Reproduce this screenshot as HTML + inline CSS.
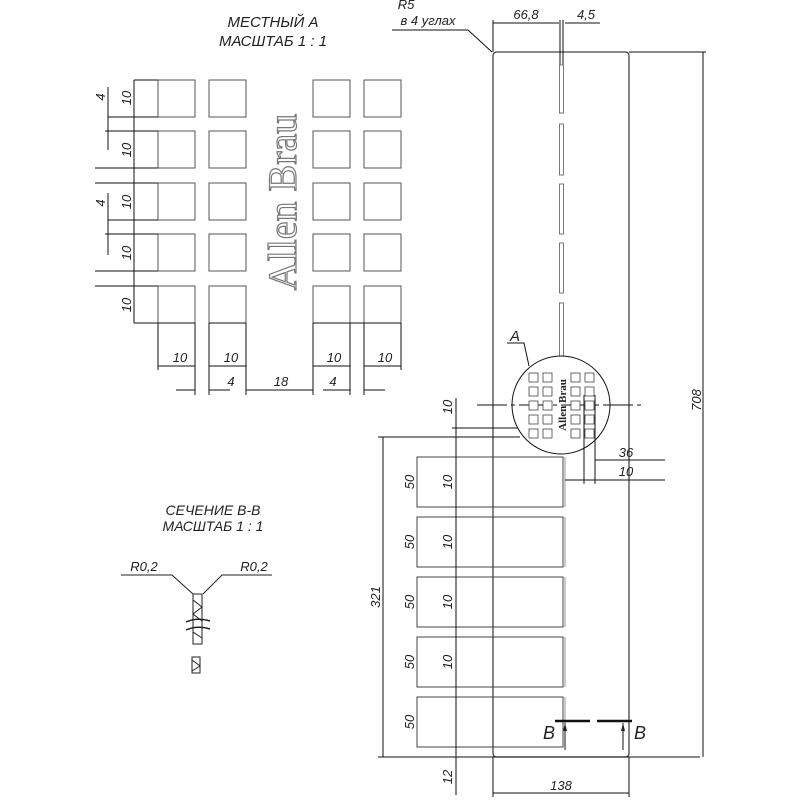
<!DOCTYPE html>
<html><head><meta charset="utf-8"><style>
body{margin:0;background:#fff}
svg{display:block}
text{font-family:"Liberation Sans",sans-serif;font-style:italic;fill:#222}
</style></head><body>
<svg width="800" height="800" viewBox="0 0 800 800" xmlns="http://www.w3.org/2000/svg">
<defs><marker id="a" markerWidth="8" markerHeight="6" refX="8" refY="3" orient="auto-start-reverse"><path d="M0,1 L8,3 L0,5" fill="#222"/></marker></defs>
<text x="273" y="27" font-size="15" text-anchor="middle">МЕСТНЫЙ А</text>
<text x="273" y="46" font-size="15" text-anchor="middle">МАСШТАБ 1 : 1</text>
<g stroke="#555" stroke-width="1" fill="none">
<g id="col">
<rect x="158" y="80" width="37" height="37"/><rect x="158" y="131" width="37" height="37"/><rect x="158" y="183" width="37" height="37"/><rect x="158" y="234" width="37" height="37"/><rect x="158" y="286" width="37" height="37"/>
</g>
<use href="#col" x="51"/><use href="#col" x="155"/><use href="#col" x="206"/>
</g>
<g stroke="#111" stroke-width="1" fill="none">
<line x1="134" y1="80" x2="158" y2="80"/><line x1="108" y1="117" x2="158" y2="117"/><line x1="105" y1="131" x2="158" y2="131"/>
<line x1="95" y1="168" x2="158" y2="168"/><line x1="95" y1="183" x2="158" y2="183"/><line x1="108" y1="220" x2="158" y2="220"/>
<line x1="105" y1="234" x2="158" y2="234"/><line x1="95" y1="271" x2="158" y2="271"/><line x1="95" y1="286" x2="158" y2="286"/>
<line x1="134" y1="323" x2="195" y2="323"/>
<line x1="134" y1="80" x2="134" y2="323"/>
<line x1="108" y1="87" x2="108" y2="150"/><line x1="108" y1="193" x2="108" y2="255"/>
<line x1="158" y1="323" x2="158" y2="370"/><line x1="195" y1="323" x2="195" y2="395"/><line x1="209" y1="323" x2="209" y2="395"/><line x1="246" y1="323" x2="246" y2="395"/>
<line x1="313" y1="323" x2="313" y2="395"/><line x1="350" y1="323" x2="350" y2="395"/><line x1="364" y1="323" x2="364" y2="395"/><line x1="401" y1="323" x2="401" y2="370"/>
<line x1="350" y1="323" x2="401" y2="323"/><line x1="209" y1="323" x2="246" y2="323"/><line x1="313" y1="323" x2="350" y2="323"/>
<line x1="158" y1="366" x2="195" y2="366"/><line x1="209" y1="366" x2="246" y2="366"/><line x1="313" y1="366" x2="350" y2="366"/><line x1="364" y1="366" x2="401" y2="366"/>
<line x1="176" y1="390" x2="195" y2="390"/><line x1="209" y1="390" x2="230" y2="390"/><line x1="246" y1="390" x2="313" y2="390"/><line x1="323" y1="390" x2="350" y2="390"/><line x1="364" y1="390" x2="385" y2="390"/>
</g>
<g font-size="13">
<text transform="translate(131,98) rotate(-90)" text-anchor="middle">10</text>
<text transform="translate(131,150) rotate(-90)" text-anchor="middle">10</text>
<text transform="translate(131,202) rotate(-90)" text-anchor="middle">10</text>
<text transform="translate(131,253) rotate(-90)" text-anchor="middle">10</text>
<text transform="translate(131,305) rotate(-90)" text-anchor="middle">10</text>
<text transform="translate(105,97) rotate(-90)" text-anchor="middle">4</text>
<text transform="translate(105,203) rotate(-90)" text-anchor="middle">4</text>
<text x="180" y="362" text-anchor="middle">10</text><text x="231" y="362" text-anchor="middle">10</text>
<text x="334" y="362" text-anchor="middle">10</text><text x="385" y="362" text-anchor="middle">10</text>
<text x="231" y="386" text-anchor="middle">4</text><text x="281" y="386" text-anchor="middle">18</text><text x="333" y="386" text-anchor="middle">4</text>
</g>
<text transform="translate(296,202) rotate(-90)" font-size="40" text-anchor="middle" style="font-family:'Liberation Serif',serif;font-style:normal;fill:#fff;stroke:#777;stroke-width:1.2">Allen Brau</text>
<text x="213" y="515" font-size="14" text-anchor="middle">СЕЧЕНИЕ В-В</text>
<text x="213" y="531" font-size="14" text-anchor="middle">МАСШТАБ 1 : 1</text>
<text x="144" y="571" font-size="13" text-anchor="middle">R0,2</text>
<text x="254" y="571" font-size="13" text-anchor="middle">R0,2</text>
<g stroke="#222" fill="none" stroke-width="1">
<polyline points="121,575 172,575 193,594"/><polyline points="272,575 222,575 203,594"/>
<rect x="193" y="594" width="9" height="50"/>
<path d="M193,600 L202,607 L193,614 L202,621 M193,632 L202,638"/>
<path d="M186,622 Q197,617 210,621 M186,630 Q197,625 210,629" stroke-width="1.5"/>
<rect x="192" y="657" width="8" height="16"/><path d="M192,660 L200,666 L192,671"/>
</g>
<g stroke="#444" fill="none" stroke-width="1">
<path d="M497,52 L625,52 Q629,52 629,56 L629,753 Q629,757 625,757 L497,757 Q493,757 493,753 L493,56 Q493,52 497,52Z" stroke-width="1.3"/>
<path d="M560,20 V65 M563,20 V65" stroke="#111"/>
<g stroke="#777"><rect x="559.5" y="65" width="4" height="48"/><rect x="559.5" y="124" width="4" height="51"/><rect x="559.5" y="184" width="4" height="50"/><rect x="559.5" y="243" width="4" height="50"/><rect x="559.5" y="303" width="4" height="53"/></g>
<rect x="417" y="457" width="146" height="50"/><rect x="417" y="517" width="146" height="50"/><rect x="417" y="577" width="146" height="50"/><rect x="417" y="637" width="146" height="50"/><rect x="417" y="697" width="146" height="50"/>
<path d="M565,457v50 M565,517v50 M565,577v50 M565,637v50 M565,697v50" stroke="#999"/>
</g>
<g stroke="#111" fill="none" stroke-width="1">
<line x1="493" y1="20" x2="493" y2="52"/>
<line x1="493" y1="23" x2="559" y2="23"/><line x1="565" y1="23" x2="600" y2="23"/>
<polyline points="392,30 468,30 492,52"/>
<line x1="629" y1="52" x2="706" y2="52"/><line x1="703" y1="52" x2="703" y2="757"/>
<line x1="378" y1="757" x2="700" y2="757"/>
<line x1="383" y1="437" x2="383" y2="757"/><line x1="378" y1="437" x2="520" y2="437"/>
<line x1="452" y1="428" x2="527" y2="428"/>
<line x1="456" y1="398" x2="456" y2="795"/>
<line x1="493" y1="757" x2="493" y2="797"/><line x1="629" y1="757" x2="629" y2="797"/>
<line x1="493" y1="793" x2="629" y2="793"/>
<circle cx="561" cy="405" r="49" fill="#fff"/>
<line x1="477" y1="405" x2="645" y2="405" stroke-dasharray="30,4,4,4"/>
<polyline points="507,343 524,343 529,366"/>
<line x1="584" y1="395" x2="584" y2="484"/><line x1="595" y1="395" x2="595" y2="484"/>
<line x1="595" y1="460" x2="665" y2="460"/><line x1="565" y1="480" x2="665" y2="480"/>
<path d="M555,721 H590 M597,721 H632" stroke-width="2.5"/>
<line x1="565" y1="750" x2="565" y2="723" marker-end="url(#a)"/><line x1="623" y1="750" x2="623" y2="723" marker-end="url(#a)"/>
</g>
<g fill="#fff" stroke="#444" stroke-width="0.8">
<rect x="529" y="373" width="9" height="9"/><rect x="543" y="373" width="9" height="9"/><rect x="571" y="373" width="9" height="9"/><rect x="585" y="373" width="9" height="9"/>
<rect x="529" y="387" width="9" height="9"/><rect x="543" y="387" width="9" height="9"/><rect x="571" y="387" width="9" height="9"/><rect x="585" y="387" width="9" height="9"/>
<rect x="529" y="401" width="9" height="9"/><rect x="543" y="401" width="9" height="9"/><rect x="571" y="401" width="9" height="9"/><rect x="585" y="401" width="9" height="9"/>
<rect x="529" y="415" width="9" height="9"/><rect x="543" y="415" width="9" height="9"/><rect x="571" y="415" width="9" height="9"/><rect x="585" y="415" width="9" height="9"/>
<rect x="529" y="429" width="9" height="9"/><rect x="543" y="429" width="9" height="9"/><rect x="571" y="429" width="9" height="9"/><rect x="585" y="429" width="9" height="9"/>
</g>
<text transform="translate(566,405) rotate(-90)" font-size="11" text-anchor="middle" style="font-family:'Liberation Serif',serif;font-style:normal;font-weight:bold">Allen Brau</text>
<g font-size="13">
<text x="406" y="9" text-anchor="middle">R5</text>
<text x="428" y="25" text-anchor="middle">в 4 углах</text>
<text x="526" y="19" text-anchor="middle">66,8</text>
<text x="586" y="19" text-anchor="middle">4,5</text>
<text x="515" y="341" font-size="15" text-anchor="middle">A</text>
<text x="626" y="457" text-anchor="middle">36</text>
<text x="626" y="476" text-anchor="middle">10</text>
<text transform="translate(701,400) rotate(-90)" text-anchor="middle">708</text>
<text transform="translate(380,597) rotate(-90)" text-anchor="middle">321</text>
<text transform="translate(452,407) rotate(-90)" text-anchor="middle">10</text>
<text x="561" y="790" text-anchor="middle">138</text>
<text transform="translate(452,777) rotate(-90)" text-anchor="middle">12</text>
<text transform="translate(414,482) rotate(-90)" text-anchor="middle">50</text>
<text transform="translate(414,542) rotate(-90)" text-anchor="middle">50</text>
<text transform="translate(414,602) rotate(-90)" text-anchor="middle">50</text>
<text transform="translate(414,662) rotate(-90)" text-anchor="middle">50</text>
<text transform="translate(414,722) rotate(-90)" text-anchor="middle">50</text>
<text transform="translate(452,482) rotate(-90)" text-anchor="middle">10</text>
<text transform="translate(452,542) rotate(-90)" text-anchor="middle">10</text>
<text transform="translate(452,602) rotate(-90)" text-anchor="middle">10</text>
<text transform="translate(452,662) rotate(-90)" text-anchor="middle">10</text>
<text x="549" y="739" font-size="18" text-anchor="middle">B</text>
<text x="640" y="739" font-size="18" text-anchor="middle">B</text>
</g>
</svg>
</body></html>
